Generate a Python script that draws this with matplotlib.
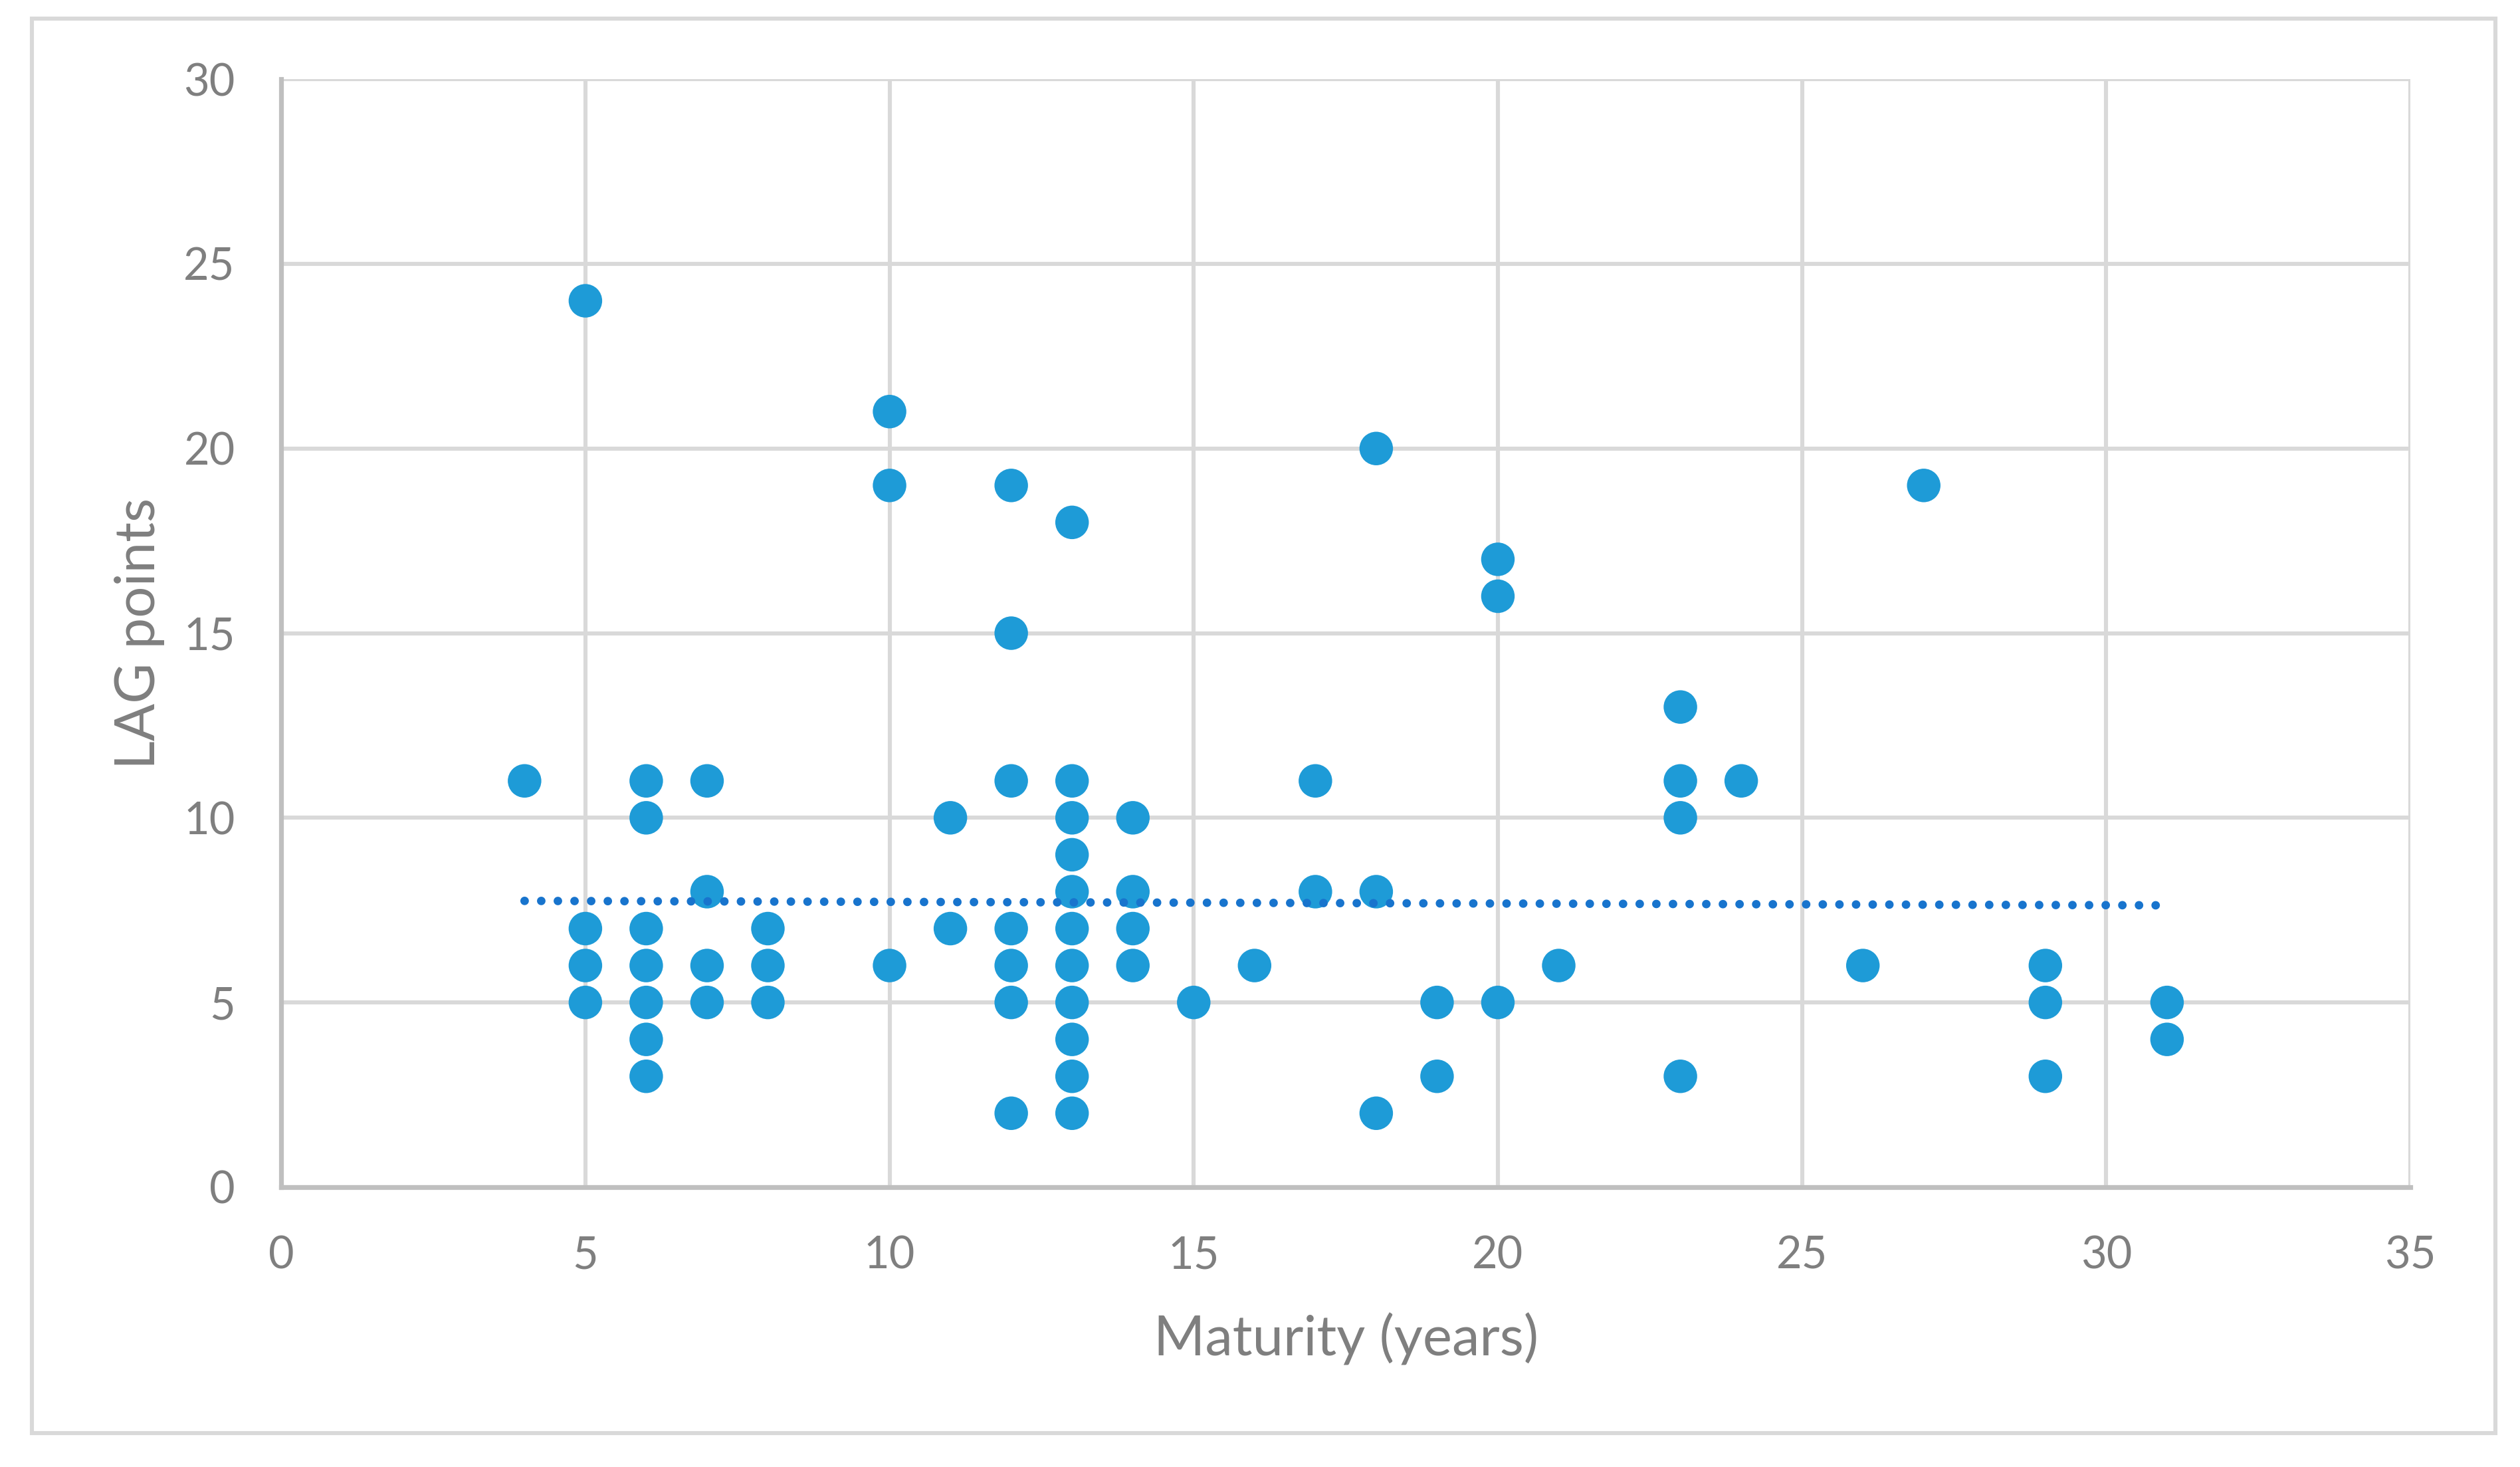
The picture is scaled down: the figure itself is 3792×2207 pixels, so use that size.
import matplotlib
matplotlib.use('Agg')
import matplotlib.pyplot as plt
from matplotlib.patches import Rectangle

# Maturity (years) and LAG points
maturity = [4,
            5, 5, 5, 5,
            6, 6, 6, 6, 6, 6, 6,
            7, 7, 7, 7,
            8, 8, 8,
            10, 10, 10,
            11, 11,
            12, 12, 12, 12, 12, 12, 12,
            13, 13, 13, 13, 13, 13, 13, 13, 13, 13, 13,
            14, 14, 14, 14,
            15, 16,
            17, 17,
            18, 18, 18,
            19, 19,
            20, 20, 20,
            21,
            23, 23, 23, 23,
            24, 26, 27,
            29, 29, 29,
            31, 31]
lag = [11,
       24, 7, 6, 5,
       11, 10, 7, 6, 5, 4, 3,
       11, 8, 6, 5,
       7, 6, 5,
       21, 19, 6,
       10, 7,
       19, 15, 11, 7, 6, 5, 2,
       18, 11, 10, 9, 8, 7, 6, 5, 4, 3, 2,
       10, 8, 7, 6,
       5, 6,
       11, 8,
       20, 8, 2,
       5, 3,
       17, 16, 5,
       6,
       13, 11, 10, 3,
       11, 6, 19,
       6, 5, 3,
       5, 4]

# linear trendline as shown in the chart (end points)
trend_x = [4, 31]
trend_y = [7.75, 7.63]

x_ticks = [0, 5, 10, 15, 20, 25, 30, 35]
y_ticks = [0, 5, 10, 15, 20, 25, 30]

grey_text = '#7f7f7f'
plt.rcParams['font.family'] = ['Lato', 'DejaVu Sans']

fig = plt.figure(figsize=(18.96, 11.035), dpi=200)
ax = fig.add_axes([0.1116, 0.1908, 0.9565 - 0.1116, 0.946 - 0.1908])

# outer chart border
fig.patches.append(Rectangle((0.0127, 0.0231), 0.9902 - 0.0127, 0.9873 - 0.0231,
                             transform=fig.transFigure, fill=False,
                             edgecolor='#d9d9d9', linewidth=2.2, zorder=0))

ax.scatter(maturity, lag, s=330, color='#1e9bd7', edgecolors='none', zorder=3)

ax.plot(trend_x, trend_y, color='#1874cd', linewidth=4.6,
        dashes=[0.01, 1.95], dash_capstyle='round', zorder=4)

ax.set_xlim(0, 35)
ax.set_ylim(0, 30)
ax.set_xticks(x_ticks)
ax.set_yticks(y_ticks)
ax.grid(True, color='#d9d9d9', linewidth=2.2, zorder=0)
ax.set_axisbelow(True)
ax.tick_params(length=0, labelsize=24, labelcolor=grey_text)
ax.tick_params(axis='y', pad=25)
ax.tick_params(axis='x', pad=26)

for side in ['top', 'right']:
    ax.spines[side].set_visible(False)
for side in ['left', 'bottom']:
    ax.spines[side].set_color('#bfbfbf')
    ax.spines[side].set_linewidth(2.6)

ax.set_xlabel('Maturity (years)', fontsize=30, color=grey_text, labelpad=20)
ax.set_ylabel('LAG points', fontsize=30, color=grey_text, labelpad=10)

fig.savefig('out.png', dpi=200)
